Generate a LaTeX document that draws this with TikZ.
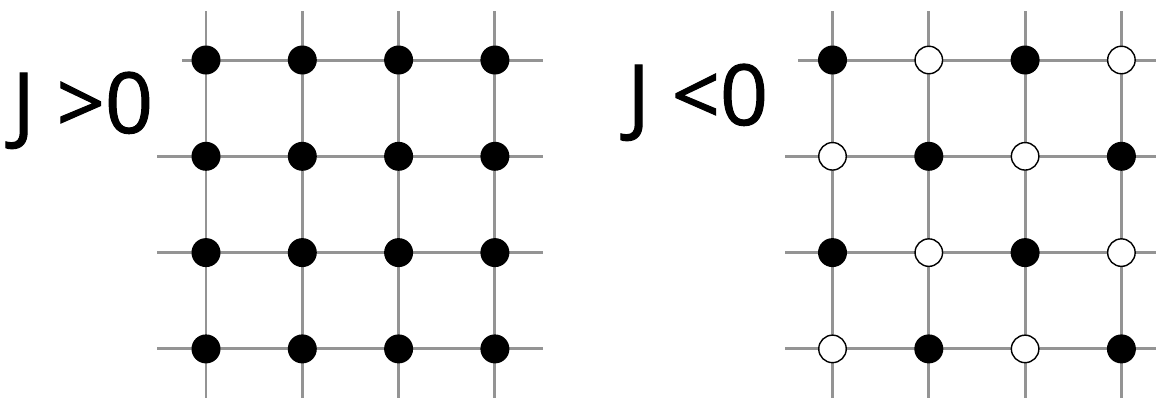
\documentclass[tikz,border=0pt]{standalone}
\usepackage{fontspec}
\setmainfont{Open Sans}
\newfontfamily\labelfont[FakeBold=1.2]{Open Sans}
\usetikzlibrary{backgrounds}

\begin{document}
\begin{tikzpicture}[x=0.02cm,y=-0.02cm,
    up/.style={circle,fill=black,inner sep=0pt,minimum size=0.58cm},
    down/.style={circle,draw=black,line width=0.8pt,fill=white,inner sep=0pt,minimum size=0.55cm},
    bond/.style={draw=black!42,line width=1.7pt},
    label/.style={anchor=base west,inner sep=0pt,font=\labelfont\fontsize{48}{56}\selectfont}]
  \useasboundingbox (0,0) rectangle (1156,397);

  % labels
  \node[label] (jpos) at (12,133) {J >0};
  \node[label] (jneg) at (627,125) {J <0};

  % ferromagnet: all spins up
  \foreach \i in {0,...,3}
    \foreach \j in {0,...,3}
      \node[up] (L\i\j) at ({206+96.3*\j},{60+96.3*\i}) {};

  % antiferromagnet: checkerboard
  \foreach \i in {0,...,3}
    \foreach \j in {0,...,3} {
      \pgfmathtruncatemacro{\spinpar}{mod(\i+\j,2)}
      \ifnum\spinpar=0
        \node[up] (R\i\j) at ({832.5+96.3*\j},{60+96.3*\i}) {};
      \else
        \node[down] (R\i\j) at ({832.5+96.3*\j},{60+96.3*\i}) {};
      \fi
    }

  % lattice bonds
  \begin{scope}[on background layer]
    \draw[bond,shorten <=-0.48cm,shorten >=-0.96cm] (L00.center) -- (L03.center);
    \foreach \i in {1,2,3}
      \draw[bond,shorten <=-0.98cm,shorten >=-0.96cm] (L\i0.center) -- (L\i3.center);
    \foreach \j in {0,...,3}
      \draw[bond,shorten <=-0.98cm,shorten >=-0.98cm] (L0\j.center) -- (L3\j.center);

    \draw[bond,shorten <=-0.69cm,shorten >=-0.69cm] (R00.center) -- (R03.center);
    \foreach \i in {1,2,3}
      \draw[bond,shorten <=-0.95cm,shorten >=-0.69cm] (R\i0.center) -- (R\i3.center);
    \foreach \j in {0,...,3}
      \draw[bond,shorten <=-0.98cm,shorten >=-0.98cm] (R0\j.center) -- (R3\j.center);
  \end{scope}
\end{tikzpicture}
\end{document}
